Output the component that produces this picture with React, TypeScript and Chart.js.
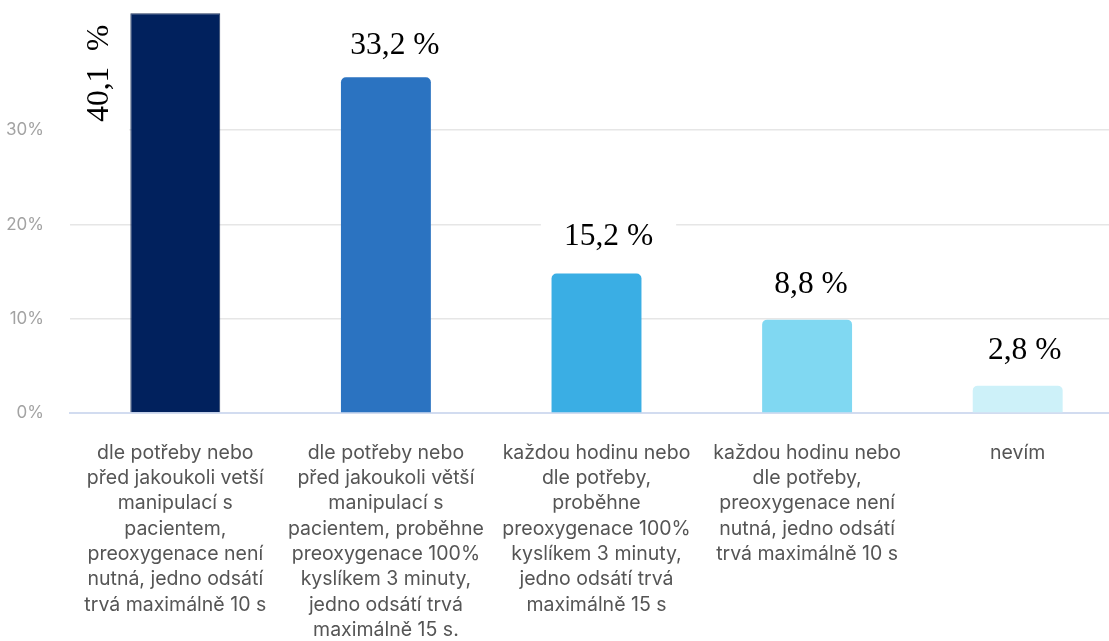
import React, { useEffect, useRef } from "react";
import { Chart, registerables } from "chart.js";

Chart.register(...registerables);

const categories: string[][] = [
  ["dle potřeby nebo", "před jakoukoli vetší", "manipulací s", "pacientem,", "preoxygenace není", "nutná, jedno odsátí", "trvá maximálně 10 s"],
  ["dle potřeby nebo", "před jakoukoli větší", "manipulací s", "pacientem, proběhne", "preoxygenace 100%", "kyslíkem 3 minuty,", "jedno odsátí trvá", "maximálně 15 s."],
  ["každou hodinu nebo", "dle potřeby,", "proběhne", "preoxygenace 100%", "kyslíkem 3 minuty,", "jedno odsátí trvá", "maximálně 15 s"],
  ["každou hodinu nebo", "dle potřeby,", "preoxygenace není", "nutná, jedno odsátí", "trvá maximálně 10 s"],
  ["nevím"],
];

// bar heights as drawn (percent)
const barValues: number[] = [42.4, 35.6, 14.8, 9.9, 2.9];
// annotation texts written on the picture
const valueLabels: string[] = ["40,1  %", "33,2 %", "15,2 %", "8,8 %", "2,8 %"];
const barColors: string[] = ["#01215d", "#2b73c1", "#3aaee4", "#80d8f2", "#cdf1f9"];
const yTickValues: number[] = [0, 10, 20, 30];

// label placement tweaks (px): dx from bar centre, dy above bar top
const labelDx: number[] = [-67, 9, 12, 4, 7];
const labelDy: number[] = [-60, 23, 28, 27, 27];

const CANVAS_W = 1123;
const CANVAS_H = 641;

const labelPlugin = {
  id: "valueLabels",
  afterDatasetsDraw(chart: any) {
    const ctx = chart.ctx;
    const xs = chart.scales.x;
    const ys = chart.scales.y;
    ctx.save();
    ctx.font = "31.5px 'Liberation Serif', 'Times New Roman', serif";
    ctx.fillStyle = "#000";
    valueLabels.forEach((txt, i) => {
      const cx = xs.getPixelForValue(i) + labelDx[i];
      const top = ys.getPixelForValue(barValues[i]);
      const by = top - labelDy[i];
      const w = ctx.measureText(txt).width;
      if (i === 0) {
        // rotated label left of first bar
        const barLeft = xs.getPixelForValue(i) - 46;
        ctx.fillStyle = "#fff";
        ctx.fillRect(chart.chartArea.left, by - w / 2 - 12, barLeft - chart.chartArea.left, w + 24 + 12);
        ctx.fillStyle = "#000";
        ctx.translate(cx, by);
        ctx.rotate(-Math.PI / 2);
        ctx.textAlign = "center";
        ctx.textBaseline = "alphabetic";
        ctx.fillText(txt, 0, 0);
        ctx.setTransform(1, 0, 0, 1, 0, 0);
      } else {
        ctx.fillStyle = "#fff";
        ctx.fillRect(cx - w / 2 - 23, by - 28, w + 46, 38);
        ctx.fillStyle = "#000";
        ctx.textAlign = "center";
        ctx.textBaseline = "alphabetic";
        ctx.fillText(txt, cx, by);
      }
    });
    ctx.restore();
  },
};

export default function App() {
  const ref = useRef<HTMLCanvasElement | null>(null);
  useEffect(() => {
    if (!ref.current) return;
    const chart = new Chart(ref.current, {
      type: "bar",
      data: {
        labels: categories,
        datasets: [
          {
            data: barValues,
            backgroundColor: barColors,
            borderColor: ["#24385f", "rgba(0,0,0,0)", "rgba(0,0,0,0)", "rgba(0,0,0,0)", "rgba(0,0,0,0)"],
            borderWidth: [1, 0, 0, 0, 0],
            borderRadius: [0, 5, 5, 5, 5],
            borderSkipped: "bottom",
            categoryPercentage: 1,
            barPercentage: 0.427,
          },
        ],
      },
      options: {
        animation: false,
        responsive: false,
        devicePixelRatio: 1,
        layout: { padding: 0 },
        plugins: { legend: { display: false }, tooltip: { enabled: false }, title: { display: false } },
        scales: {
          x: {
            grid: { display: false, drawTicks: false },
            border: { display: true, color: "#d2dcf0", width: 2 },
            ticks: {
              autoSkip: false,
              maxRotation: 0,
              minRotation: 0,
              padding: 27,
              color: "#555555",
              font: { family: "Inter, 'Noto Sans', sans-serif", size: 19.5, lineHeight: 1.3 },
            },
            afterFit: (s: any) => {
              s.height = 228;
              s.paddingLeft = 0;
              s.paddingRight = 0;
            },
          },
          y: {
            min: 0,
            max: 43.8,
            grid: {
              drawTicks: false,
              color: (c: any) =>
                c.tick && c.tick.value !== 0 && yTickValues.includes(c.tick.value) ? "#e6e6e6" : "rgba(0,0,0,0)",
              lineWidth: 1.5,
            },
            border: { display: false },
            ticks: {
              stepSize: 10,
              padding: 26,
              color: "#a3a3a3",
              font: { family: "Inter, 'Noto Sans', sans-serif", size: 17 },
              callback: (v: any) => (yTickValues.includes(Number(v)) ? v + "%" : ""),
            },
            afterFit: (s: any) => {
              s.width = 70;
              s.paddingTop = 0;
              s.paddingBottom = 0;
            },
          },
        },
      },
      plugins: [labelPlugin],
    });
    return () => chart.destroy();
  }, []);
  return (
    <div style={{ position: "fixed", left: 0, top: 0, width: 1109, height: 641, overflow: "hidden", background: "#fff" }}>
      <canvas ref={ref} width={CANVAS_W} height={CANVAS_H} style={{ display: "block", width: CANVAS_W, height: CANVAS_H }} />
    </div>
  );
}
